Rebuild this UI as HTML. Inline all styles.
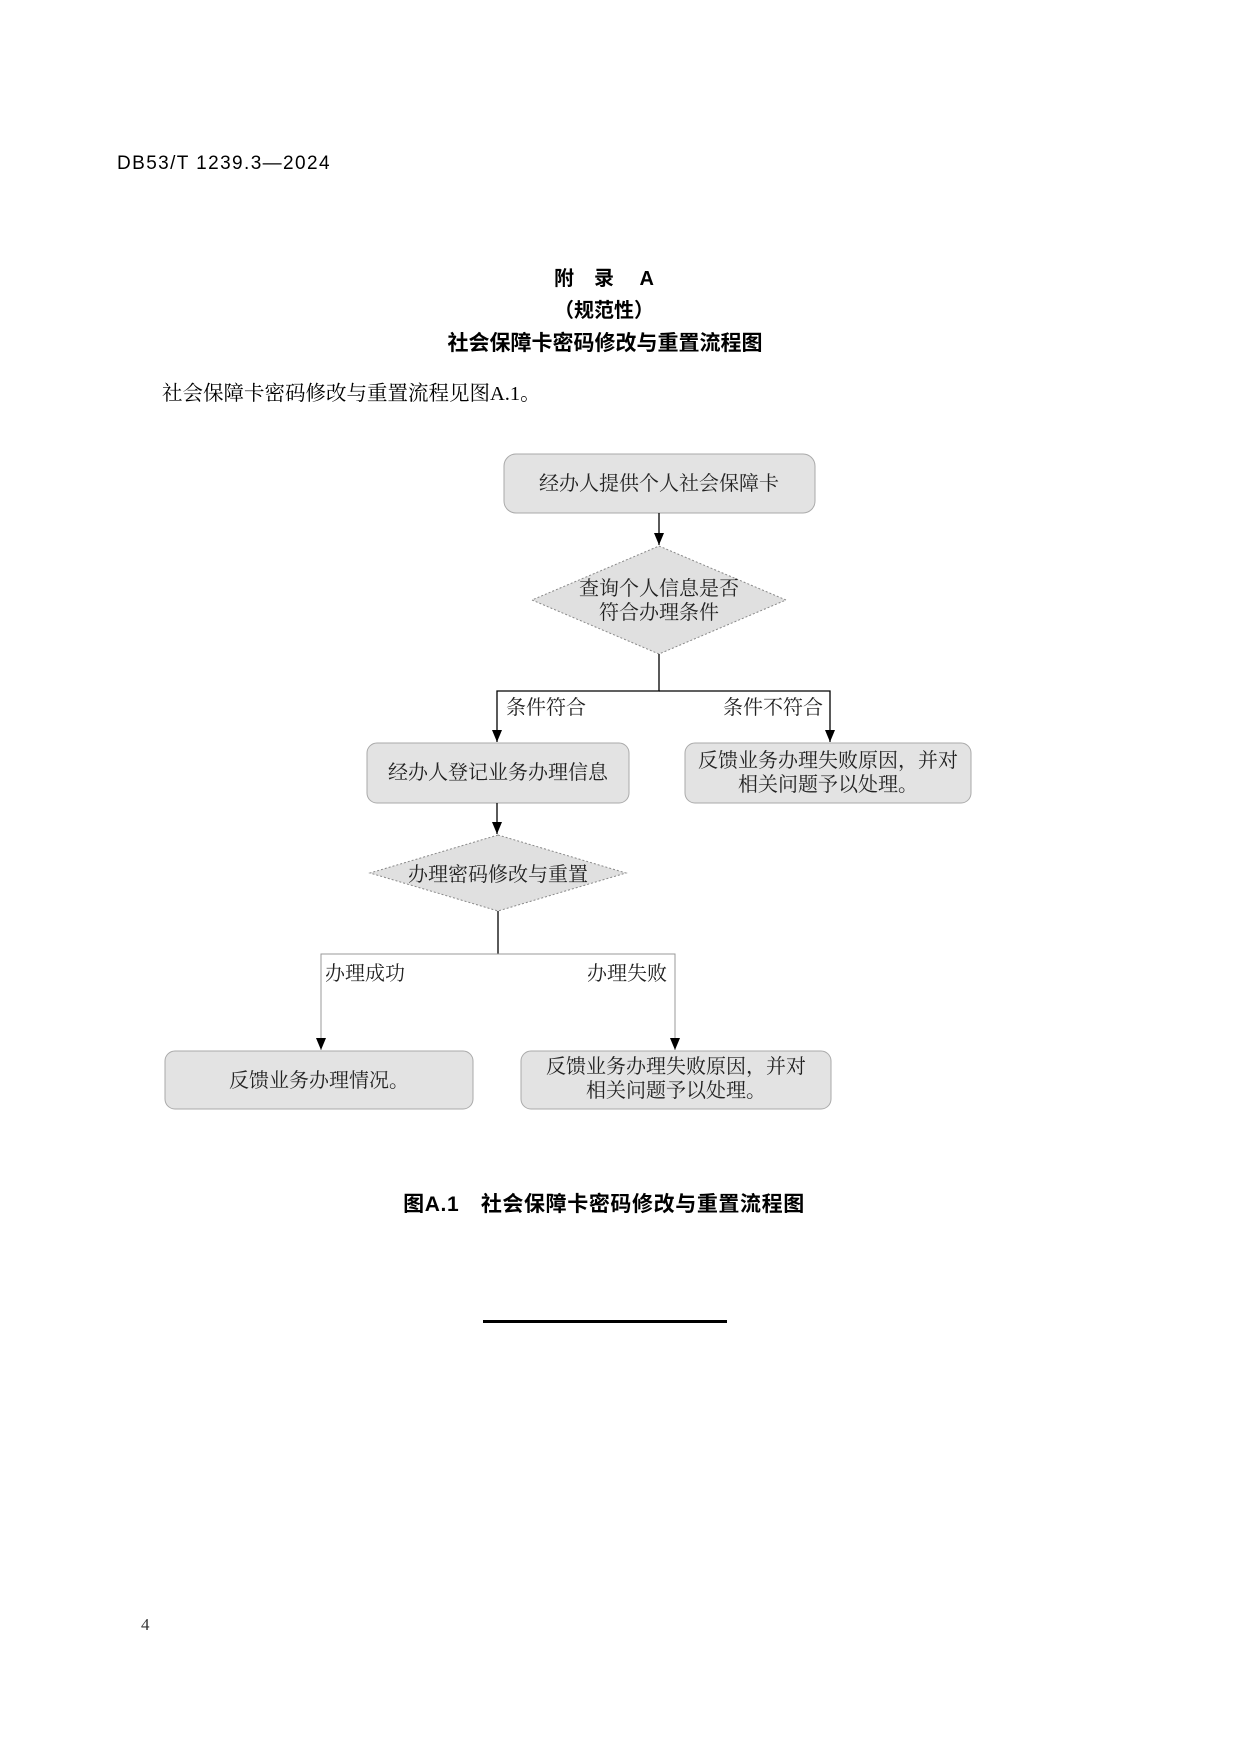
<!DOCTYPE html>
<html><head><meta charset="utf-8"><style>
html,body{margin:0;padding:0;background:#fff;}
svg{display:block;}
.h{font-family:"Liberation Sans","Noto Sans CJK SC",sans-serif;}
.s{font-family:"Liberation Serif","Noto Serif CJK SC",serif;}
</style></head><body>
<svg width="1241" height="1754" viewBox="0 0 1241 1754" xmlns="http://www.w3.org/2000/svg">
<defs>
<marker id="a" markerWidth="12" markerHeight="10" refX="12" refY="5" orient="auto" markerUnits="userSpaceOnUse">
<path d="M0,0 L12,5 L0,10 Z" fill="#000"/></marker>
</defs>
<text x="117" y="169" class="h" font-size="19" letter-spacing="1.4" fill="#000">DB53/T 1239.3—2024</text>
<text x="604" y="285" class="h" font-size="20" font-weight="bold" text-anchor="middle">附　录　 A</text>
<text x="604" y="317" class="h" font-size="20" font-weight="bold" text-anchor="middle">（规范性）</text>
<text x="605" y="350" class="h" font-size="21" font-weight="bold" text-anchor="middle">社会保障卡密码修改与重置流程图</text>
<text x="162" y="400" class="s" font-size="20.5">社会保障卡密码修改与重置流程见图A.1。</text>

<g fill="#e3e3e3" stroke="#aaa" stroke-width="1">
<rect x="504" y="454" width="311" height="59" rx="12"/>
<rect x="367" y="743" width="262" height="60" rx="10"/>
<rect x="685" y="743" width="286" height="60" rx="10"/>
<rect x="165" y="1051" width="308" height="58" rx="10"/>
<rect x="521" y="1051" width="310" height="58" rx="10"/>
</g>
<g fill="#e0e0e0" stroke="#888" stroke-width="1" stroke-dasharray="2,2">
<polygon points="659,546 786,600 659,654 532,600"/>
<polygon points="498,835 626,873 498,911 370,873"/>
</g>
<g stroke="#000" stroke-width="1.3" fill="none">
<line x1="659" y1="513" x2="659" y2="545" marker-end="url(#a)"/>
<polyline points="659,654 659,691 497,691 497,742" marker-end="url(#a)"/>
<polyline points="659,691 830,691 830,742" marker-end="url(#a)"/>
<line x1="497" y1="803" x2="497" y2="834" marker-end="url(#a)"/>
<polyline points="498,911 498,954"/>
</g>
<g stroke="#999" stroke-width="1" fill="none">
<polyline points="498,954 321,954 321,1050" marker-end="url(#a)"/>
<polyline points="498,954 675,954 675,1050" marker-end="url(#a)"/>
</g>
<g class="s" font-size="20" fill="#222" text-anchor="middle">
<text x="659" y="490">经办人提供个人社会保障卡</text>
<text x="659" y="595">查询个人信息是否</text>
<text x="659" y="619">符合办理条件</text>
<text x="498" y="779">经办人登记业务办理信息</text>
<text x="828" y="767">反馈业务办理失败原因，并对</text>
<text x="828" y="791">相关问题予以处理。</text>
<text x="498" y="881">办理密码修改与重置</text>
<text x="319" y="1087">反馈业务办理情况。</text>
<text x="676" y="1073">反馈业务办理失败原因，并对</text>
<text x="676" y="1097">相关问题予以处理。</text>
</g>
<g class="s" font-size="20" fill="#222">
<text x="506" y="714">条件符合</text>
<text x="823" y="714" text-anchor="end">条件不符合</text>
<text x="325" y="980">办理成功</text>
<text x="667" y="980" text-anchor="end">办理失败</text>
</g>
<text x="604" y="1211" class="h" font-size="21" font-weight="bold" letter-spacing="0.6" text-anchor="middle">图A.1　社会保障卡密码修改与重置流程图</text>
<rect x="483" y="1320" width="244" height="3" fill="#000"/>
<text x="141" y="1630" class="s" font-size="17" fill="#333">4</text>
</svg>
</body></html>
